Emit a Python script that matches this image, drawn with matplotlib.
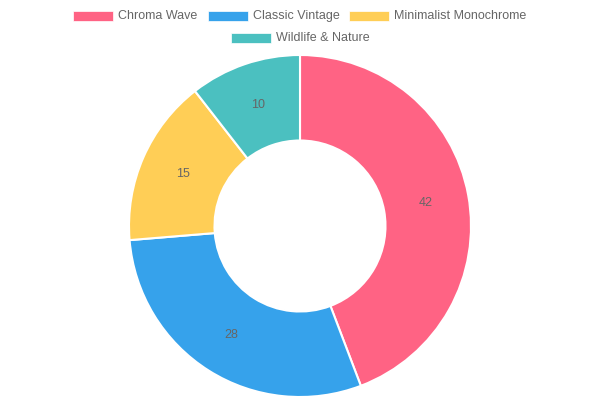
import matplotlib
matplotlib.use("Agg")
import matplotlib.pyplot as plt
from matplotlib.patches import Rectangle
import numpy as np

plt.rcParams["font.family"] = ["Liberation Sans", "DejaVu Sans"]

categories = ["Chroma Wave", "Classic Vintage", "Minimalist Monochrome", "Wildlife & Nature"]
counts = [42, 28, 15, 10]
colors = ["#FF6384", "#36A2EB", "#FFCE56", "#4BC0C0"]
legend_rows = [[0, 1, 2], [3]]

W, H = 600, 400
fig = plt.figure(figsize=(6, 4), dpi=100)

# doughnut: centre (300, 226) px from top, outer radius 171 px
cx, cy, r = 300, 226, 171
ax = fig.add_axes([(cx - r) / W, (H - cy - r) / H, 2 * r / W, 2 * r / H])
ax.pie(counts, colors=colors, startangle=90, counterclock=False, radius=1.0,
       wedgeprops=dict(width=0.5, edgecolor="white", linewidth=1.5))
ax.set_xlim(-1, 1)
ax.set_ylim(-1, 1)
ax.set_aspect("equal")
ax.axis("off")

# value labels in the middle of the ring
total = sum(counts)
start = 90.0
for v in counts:
    mid = np.deg2rad(start - 360.0 * v / total / 2)
    ax.text(0.75 * np.cos(mid), 0.75 * np.sin(mid), str(v), ha="center", va="center",
            fontsize=9, color="#666666")
    start -= 360.0 * v / total

# legend, drawn like chart.js: 40px box, 5px gap, 10px between items, rows centred
fig.canvas.draw()
renderer = fig.canvas.get_renderer()
fs = 9
box_w, box_h, gap, pad = 40, 10, 5, 10
row_y = [16, 38]
for row, y in zip(legend_rows, row_y):
    widths = []
    for i in row:
        t = fig.text(0, 0, categories[i], fontsize=fs)
        widths.append(t.get_window_extent(renderer).width)
        t.remove()
    item_w = [box_w + gap + w for w in widths]
    row_w = sum(item_w) + pad * (len(row) - 1)
    x = (W - row_w) / 2
    for i, w in zip(row, item_w):
        fig.patches.append(Rectangle((x / W, (H - y - box_h / 2) / H), box_w / W, box_h / H,
                                     transform=fig.transFigure, facecolor=colors[i],
                                     edgecolor="white", linewidth=0.5))
        fig.text((x + box_w + gap) / W, (H - y) / H, categories[i], fontsize=fs,
                 color="#666666", ha="left", va="center")
        x += w + pad

fig.savefig("out.png", dpi=100)
